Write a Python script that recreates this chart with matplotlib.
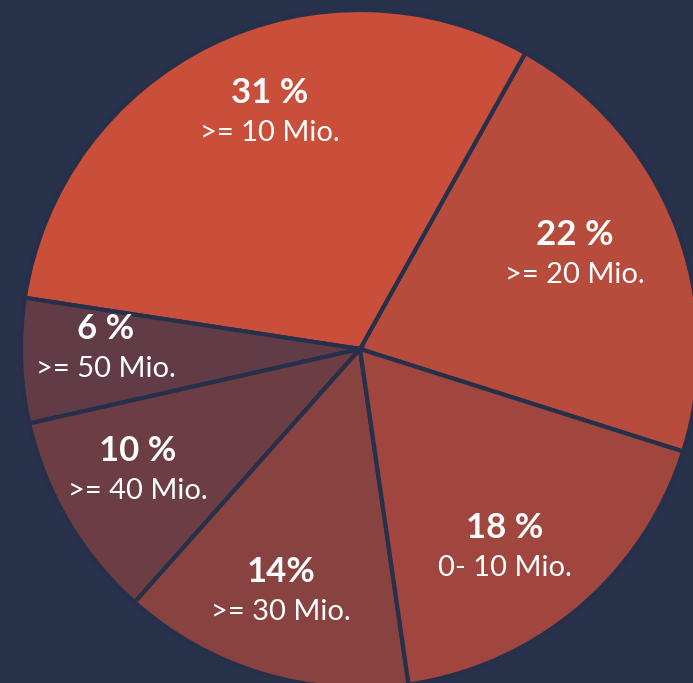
import matplotlib
matplotlib.use("Agg")
import matplotlib.pyplot as plt
import numpy as np

# data, counterclockwise starting at the 22 % slice
shares = [22, 31, 6, 10, 14, 18]
pct_labels = ['22 %', '31 %', '6 %', '10 %', '14%', '18 %']
range_labels = ['>= 20 Mio.', '>= 10 Mio.', '>= 50 Mio.', '>= 40 Mio.', '>= 30 Mio.', '0- 10 Mio.']
colors = ['#B74C3C', '#C94F3A', '#613C46', '#6D3D44', '#88423F', '#A1463F']

bg = '#28324A'
W, H = 693, 683
fig = plt.figure(figsize=(W / 100, H / 100), dpi=100, facecolor=bg)
ax = fig.add_axes([0, 0, 1, 1])
ax.set_facecolor(bg)

cx, cy, r = 360, H - 349, 339
wedges, _ = ax.pie(shares, colors=colors, startangle=-17.6, counterclock=True,
                   center=(cx, cy), radius=r, frame=True,
                   wedgeprops=dict(edgecolor='#26304A', linewidth=3))

# label placement tweaks (angle shift in degrees, radius fraction)
label_shift = [1.5, -4.9, -1.6, -1.4, -1.1, -4.5]
label_r = [0.69, 0.74, 0.75, 0.75, 0.76, 0.73]
for w, p, lab, sh, lr in zip(wedges, pct_labels, range_labels, label_shift, label_r):
    mid = np.deg2rad((w.theta1 + w.theta2) / 2 + sh)
    x = cx + lr * r * np.cos(mid)
    y = cy + lr * r * np.sin(mid)
    ax.text(x, y + 6, p, color='white', fontsize=25, fontweight='bold',
            family='Lato', ha='center', va='bottom')
    ax.text(x, y - 5, lab, color='white', fontsize=21, fontweight='normal',
            family='Lato', ha='center', va='top')

ax.set_xlim(0, W)
ax.set_ylim(0, H)
ax.set_aspect('equal')
ax.axis('off')
fig.savefig('out.png', dpi=100, facecolor=bg)
